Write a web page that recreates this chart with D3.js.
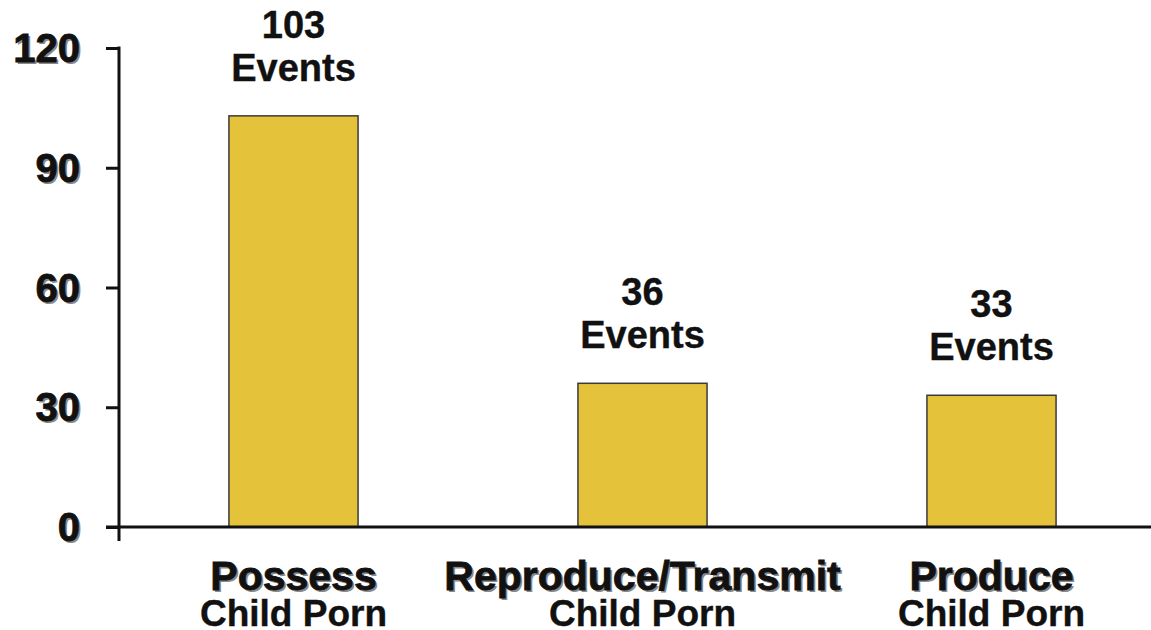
<!DOCTYPE html>
<html>
<head>
<meta charset="utf-8">
<script src="https://cdn.jsdelivr.net/npm/d3@7"></script>
<style>
  body { margin: 0; background: #fff; }
  svg { display: block; }
</style>
</head>
<body>
<div id="bar"></div>
<script>
// chart data
let categories = ['Possess', 'Reproduce/Transmit', 'Produce'];
let subLabels = ['Child Porn', 'Child Porn', 'Child Porn'];
let events = [103, 36, 33];
let yTicks = [0, 30, 60, 90, 120];

let b_width = 1151, b_height = 630;
let b_margin = {top: 48, right: -15, bottom: 103, left: 119};
let bar_color = '#e4c33b';
let shadow_color = '#8a8a8a';

let b_data = categories.map((c, i) => ({cat: c, sub: subLabels[i], count: events[i]}));

let svg = d3.select('#bar')
            .append('svg')
            .attr('width', b_width)
            .attr('height', b_height)
            .attr('font-family', 'Liberation Sans, Arial, sans-serif');

let x = d3.scaleBand()
            .domain(categories)
            .range([b_margin.left, b_width - b_margin.right])
            .paddingInner(0.63)
            .paddingOuter(0.315);

let y = d3.scaleLinear()
            .domain([0, 120])
            .range([b_height - b_margin.bottom, b_margin.top]);

// bars
svg.selectAll('rect.bar')
      .data(b_data)
      .enter().append('rect')
      .attr('class', 'bar')
      .attr('x', d => x(d.cat))
      .attr('width', x.bandwidth())
      .attr('y', d => y(d.count))
      .attr('height', d => y(0) - y(d.count))
      .attr('fill', bar_color)
      .attr('stroke', '#3a3a3a')
      .attr('stroke-width', 1.5);

// y axis
let yAxis = svg.append('g')
            .attr('transform', 'translate(' + b_margin.left + ',0)')
            .call(d3.axisLeft(y).tickValues(yTicks).tickSize(13).tickPadding(26));
yAxis.select('.domain').remove();
yAxis.selectAll('.tick line').attr('stroke', '#111').attr('stroke-width', 3);
yAxis.selectAll('.tick text').remove();

// axis lines
svg.append('line')
      .attr('x1', b_margin.left).attr('x2', b_margin.left)
      .attr('y1', y(120) - 1.5).attr('y2', y(0) + 14)
      .attr('stroke', '#111').attr('stroke-width', 3);
svg.append('line')
      .attr('x1', b_margin.left - 13).attr('x2', b_width)
      .attr('y1', y(0)).attr('y2', y(0))
      .attr('stroke', '#111').attr('stroke-width', 3);

// text with grey drop shadow
function shadowText(g, xp, yp, txt, size, anchor, base) {
  g.append('text')
    .attr('x', xp + 2).attr('y', yp + 2)
    .attr('text-anchor', anchor)
    .attr('dominant-baseline', base)
    .attr('font-size', size).attr('font-weight', 'bold')
    .attr('fill', shadow_color)
    .text(txt);
  g.append('text')
    .attr('x', xp).attr('y', yp)
    .attr('text-anchor', anchor)
    .attr('dominant-baseline', base)
    .attr('font-size', size).attr('font-weight', 'bold')
    .attr('stroke', '#111').attr('stroke-width', 0.8)
    .attr('fill', '#111')
    .text(txt);
}

let tickG = svg.append('g');
yTicks.forEach(t => {
  shadowText(tickG, 80, y(t), t, 40, 'end', 'central');
});

// category labels
let catG = svg.append('g');
b_data.forEach(d => {
  let cx = x(d.cat) + x.bandwidth() / 2;
  shadowText(catG, cx, 590, d.cat, 41, 'middle', 'auto');
  catG.append('text')
      .attr('x', cx).attr('y', 626)
      .attr('text-anchor', 'middle')
      .attr('font-size', 37).attr('font-weight', 'bold')
      .attr('stroke', '#111').attr('stroke-width', 0.4)
      .attr('fill', '#111')
      .text(d.sub);
});

// value labels above bars
svg.selectAll('text.val')
      .data(b_data)
      .enter().append('text')
      .attr('class', 'val')
      .attr('x', d => x(d.cat) + x.bandwidth() / 2)
      .attr('y', d => y(d.count) - 78)
      .attr('text-anchor', 'middle')
      .attr('font-size', 38).attr('font-weight', 'bold')
      .attr('stroke', '#111').attr('stroke-width', 0.4)
      .attr('fill', '#111')
      .text(d => d.count);
svg.selectAll('text.ev')
      .data(b_data)
      .enter().append('text')
      .attr('class', 'ev')
      .attr('x', d => x(d.cat) + x.bandwidth() / 2)
      .attr('y', d => y(d.count) - 35)
      .attr('text-anchor', 'middle')
      .attr('font-size', 38).attr('font-weight', 'bold')
      .attr('stroke', '#111').attr('stroke-width', 0.4)
      .attr('fill', '#111')
      .text('Events');
</script>
</body>
</html>
